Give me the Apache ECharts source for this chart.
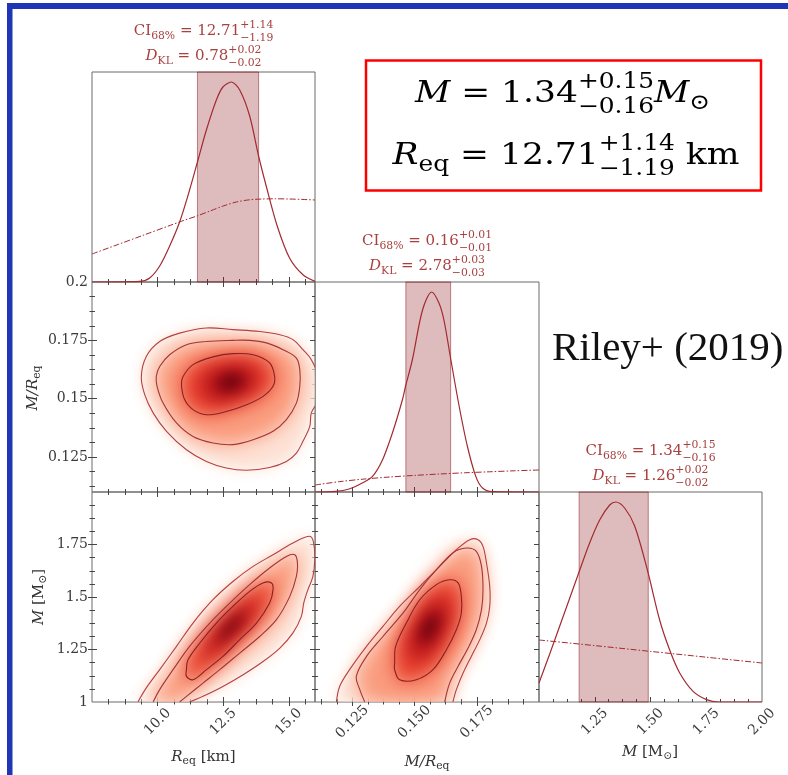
<!DOCTYPE html>
<html>
<head>
<meta charset="utf-8">
<script src="https://cdn.jsdelivr.net/npm/echarts@6/dist/echarts.min.js"></script>
<style>
html,body{margin:0;padding:0;background:#ffffff;}
#chart{width:788px;height:775px;}
</style>
</head>
<body>
<div id="chart"></div>
<script>
// ---------- axis ranges ----------
const reqRange = [7.5, 16];        // equatorial radius [km]
const compRange = [0.11, 0.2];     // compactness M/R_eq
const massRange = [1, 2];          // mass [M_sun]
const densityRange = [0, 1.05];    // normalised marginal density

// ---------- ticks and tick labels ----------
const reqMajor = [10, 12.5, 15];
const reqLabels = ['10.0', '12.5', '15.0'];
const compMajor = [0.125, 0.15, 0.175];
const compXLabels = ['0.125', '0.150', '0.175'];
const compYLabelValues = [0.125, 0.15, 0.175, 0.2];
const compYLabels = ['0.125', '0.15', '0.175', '0.2'];
const massMajor = [1.25, 1.5, 1.75];
const massYLabelValues = [1, 1.25, 1.5, 1.75];
const massYLabels = ['1', '1.25', '1.5', '1.75'];
const massXLabelValues = [1.25, 1.5, 1.75, 2];
const massXLabels = ['1.25', '1.50', '1.75', '2.00'];
const reqMinorStep = 0.625;
const compMinorStep = 0.00625;
const massMinorStep = 0.0625;

// ---------- summary statistics: [median, +err, -err] ----------
const reqCI = [12.71, 1.14, 1.19];
const compCI = [0.156, 0.0085, 0.0095];
const massCI = [1.34, 0.15, 0.16];
const reqKL = [0.78, 0.02, 0.02];
const compKL = [2.78, 0.03, 0.03];
const massKL = [1.26, 0.02, 0.02];

// ---------- 1D marginal posteriors and priors ----------
const reqPosterior = [[7.5,0],[9.32,0.003],[9.70,0.02],[10.08,0.08],[10.46,0.18],[10.84,0.30],[11.22,0.46],[11.54,0.61],[11.86,0.76],[12.24,0.91],[12.49,0.975],[12.81,1.0],[13.13,0.96],[13.51,0.83],[13.85,0.63],[14.14,0.48],[14.56,0.28],[15.03,0.12],[15.54,0.036],[16.0,0.003]];
const reqPrior = [[7.5,0.14],[8.5,0.188],[9.5,0.236],[10.5,0.284],[11.0,0.308],[11.5,0.33],[12.0,0.355],[12.5,0.38],[13.0,0.4],[13.5,0.411],[14.0,0.415],[14.5,0.416],[15.0,0.415],[15.5,0.413],[16.0,0.41]];
const compPosterior = [[0.11,0],[0.1183,0.003],[0.1237,0.015],[0.129,0.045],[0.1331,0.078],[0.1371,0.16],[0.1411,0.295],[0.1451,0.46],[0.1464,0.53],[0.1491,0.66],[0.1532,0.91],[0.1569,1.0],[0.1598,0.945],[0.1618,0.86],[0.1646,0.66],[0.1679,0.43],[0.1712,0.23],[0.1746,0.078],[0.1773,0.02],[0.1812,0.002],[0.2,0]];
const compPrior = [[0.11,0.035],[0.12,0.052],[0.13,0.065],[0.14,0.075],[0.15,0.083],[0.16,0.09],[0.17,0.096],[0.18,0.101],[0.19,0.106],[0.2,0.11]];
const massPosterior = [[1.0,0.095],[1.048,0.24],[1.093,0.38],[1.138,0.52],[1.178,0.645],[1.227,0.795],[1.272,0.91],[1.317,0.985],[1.344,1.0],[1.384,0.97],[1.429,0.88],[1.486,0.66],[1.541,0.41],[1.586,0.26],[1.631,0.145],[1.691,0.053],[1.751,0.012],[1.807,0.0],[2.0,0.0]];
const massPrior = [[1.0,0.31],[1.25,0.282],[1.5,0.253],[1.75,0.224],[2.0,0.195]];

// ---------- 2D credible contours (outer, middle, inner) and density peaks ----------
const reqCompOuter = [[9.38,0.1595],[9.57,0.1681],[10.08,0.1745],[10.84,0.1781],[11.86,0.1803],[12.87,0.1796],[13.89,0.1788],[14.66,0.1774],[15.16,0.1753],[15.54,0.1710],[15.86,0.1667],[16.12,0.1595],[16.12,0.1496],[15.86,0.1439],[15.80,0.1381],[15.54,0.1317],[15.29,0.1267],[14.91,0.1231],[14.27,0.1205],[13.39,0.1193],[12.62,0.1203],[11.86,0.1231],[11.10,0.1281],[10.34,0.1360],[9.83,0.1439],[9.51,0.1517]];
const reqCompMiddle = [[9.95,0.1595],[10.08,0.1638],[10.46,0.1688],[11.10,0.1731],[11.86,0.1745],[12.87,0.1750],[13.51,0.1750],[14.15,0.1739],[14.78,0.1710],[15.29,0.1674],[15.42,0.1624],[15.42,0.1553],[15.29,0.1481],[14.91,0.1410],[14.40,0.1360],[13.64,0.1324],[12.87,0.1303],[12.11,0.1310],[11.35,0.1338],[10.72,0.1396],[10.21,0.1481],[9.98,0.1553]];
const reqCompInner = [[10.91,0.1560],[10.97,0.1595],[11.35,0.1646],[12.11,0.1679],[12.87,0.1693],[13.64,0.1688],[14.27,0.1653],[14.46,0.1595],[14.40,0.1553],[14.02,0.1510],[13.39,0.1474],[12.62,0.1445],[11.86,0.1431],[11.35,0.1453],[11.03,0.1496]];
const reqCompPeak = [12.85, 0.1572];

const reqMassOuter = [[9.25,1.0],[9.57,1.067],[10.08,1.154],[10.72,1.265],[11.35,1.376],[12.11,1.487],[12.87,1.574],[13.64,1.646],[14.40,1.701],[15.16,1.757],[15.80,1.789],[15.95,1.757],[15.99,1.678],[15.92,1.598],[15.73,1.535],[15.57,1.471],[15.48,1.408],[15.16,1.329],[14.66,1.257],[14.02,1.193],[13.26,1.130],[12.49,1.074],[11.73,1.027],[11.22,1.0]];
const reqMassMiddle = [[9.83,1.0],[10.08,1.059],[10.59,1.154],[11.22,1.265],[11.99,1.376],[12.75,1.471],[13.51,1.559],[14.27,1.638],[14.91,1.693],[15.23,1.701],[15.33,1.662],[15.29,1.598],[15.04,1.503],[14.53,1.392],[13.89,1.312],[13.13,1.233],[12.37,1.154],[11.73,1.090],[11.10,1.027],[10.84,1.0]];
const reqMassInner = [[11.10,1.154],[11.16,1.201],[11.61,1.281],[12.24,1.376],[12.87,1.455],[13.51,1.527],[14.02,1.567],[14.34,1.567],[14.40,1.535],[14.27,1.471],[13.77,1.376],[13.13,1.297],[12.49,1.217],[11.86,1.154],[11.35,1.106],[11.10,1.122]];
const reqMassPeak = [12.8, 1.36];

const compMassOuter = [[0.1186,1.0],[0.1199,1.074],[0.1239,1.154],[0.1307,1.265],[0.1373,1.360],[0.1440,1.455],[0.1521,1.550],[0.1601,1.646],[0.1668,1.725],[0.1722,1.773],[0.1755,1.773],[0.1775,1.741],[0.1789,1.662],[0.1802,1.550],[0.1802,1.455],[0.1789,1.376],[0.1762,1.297],[0.1728,1.217],[0.1695,1.138],[0.1668,1.059],[0.1654,1.0]];
const compMassMiddle = [[0.1300,1.0],[0.1280,1.059],[0.1266,1.122],[0.1307,1.217],[0.1373,1.312],[0.1454,1.424],[0.1521,1.535],[0.1588,1.630],[0.1654,1.710],[0.1708,1.733],[0.1748,1.717],[0.1769,1.646],[0.1775,1.535],[0.1769,1.440],[0.1748,1.344],[0.1715,1.257],[0.1675,1.170],[0.1641,1.090],[0.1621,1.0]];
const compMassInner = [[0.1420,1.186],[0.1424,1.265],[0.1467,1.376],[0.1521,1.487],[0.1588,1.559],[0.1641,1.582],[0.1675,1.567],[0.1688,1.503],[0.1688,1.424],[0.1668,1.344],[0.1628,1.249],[0.1574,1.154],[0.1507,1.106],[0.1440,1.106],[0.1420,1.154]];
const compMassPeak = [0.1561, 1.36];

// ---------- styling ----------
const SERIF = '"DejaVu Serif", serif';
const TICK = '#454545';
const LABEL = '#3a3a3a';
const CURVE = '#a22a30';
const TITLE_RED = '#a8403f';
const BAND = 'rgba(140,22,28,0.29)';
const BAND_EDGE = 'rgba(140,22,28,0.5)';
const SHADE = ['#fde2d6', '#fa9c7e', '#e8412f', '#b8141c', '#6a020e'];
const SHADE_BLUR = [14, 18, 18, 18, 14];
const CONTOUR = ['#b5403f', '#a33437', '#8a2024'];
const OFF = 4000;

function stepsWithin(range, step) {
  const out = [];
  const k0 = Math.ceil(range[0] / step - 1e-9);
  for (let k = k0; k * step <= range[1] + 1e-9; k++) {
    const v = +(k * step).toFixed(6);
    if (v > range[0] + 1e-9 && v < range[1] - 1e-9) out.push(v);
  }
  return out;
}
function lookup(values, texts, v) {
  for (let i = 0; i < values.length; i++) if (Math.abs(values[i] - v) < 1e-7) return texts[i];
  return '';
}

// ---------- panel layout ----------
const grids = [
  {left: 92, top: 72, width: 223, height: 210},   // 0: R_eq marginal
  {left: 92, top: 282, width: 223, height: 210},  // 1: R_eq vs M/R_eq
  {left: 92, top: 492, width: 223, height: 210},  // 2: R_eq vs M
  {left: 315, top: 282, width: 224, height: 210}, // 3: M/R_eq marginal
  {left: 315, top: 492, width: 224, height: 210}, // 4: M/R_eq vs M
  {left: 539, top: 492, width: 223, height: 210}  // 5: M marginal
].map(g => Object.assign({show: true, borderColor: '#6a6a6a', borderWidth: 1, backgroundColor: 'transparent', outerBoundsMode: 'none'}, g));

const xAxes = [], yAxes = [];
function axis(dim, grid, range, position, ticks, len, inside, label) {
  const list = dim === 'x' ? xAxes : yAxes;
  list.push({
    type: 'value', gridIndex: grid, min: range[0], max: range[1], position,
    axisLine: {show: false, onZero: false},
    splitLine: {show: false},
    axisTick: {show: true, inside, length: len, customValues: ticks, lineStyle: {color: TICK, width: 1}},
    axisLabel: label || {show: false}
  });
  return list.length - 1;
}
function ticked(dim, grid, range, position, major, minorStep, inside, label) {
  const first = axis(dim, grid, range, position, major, inside ? 5 : 4, inside, label);
  axis(dim, grid, range, position, stepsWithin(range, minorStep), inside ? 3 : 2.5, inside, null);
  return first;
}
function hiddenY(grid) {
  yAxes.push({type: 'value', gridIndex: grid, min: densityRange[0], max: densityRange[1], show: false});
  return yAxes.length - 1;
}
function xLabel(values, texts) {
  return {show: true, customValues: values, rotate: 45, align: 'center', verticalAlign: 'middle', margin: 20,
    fontFamily: SERIF, fontSize: 14, color: LABEL, formatter: v => lookup(values, texts, v)};
}
function yLabel(values, texts) {
  return {show: true, customValues: values, margin: 4,
    fontFamily: SERIF, fontSize: 14, color: LABEL, formatter: v => lookup(values, texts, v)};
}

// panel 0
const x0 = ticked('x', 0, reqRange, 'bottom', reqMajor, reqMinorStep, true);
const y0 = hiddenY(0);
// panel 1
const x1 = ticked('x', 1, reqRange, 'bottom', reqMajor, reqMinorStep, true);
ticked('x', 1, reqRange, 'top', reqMajor, reqMinorStep, true);
const y1 = ticked('y', 1, compRange, 'left', compMajor, compMinorStep, true);
ticked('y', 1, compRange, 'left', compMajor, compMinorStep, false, yLabel(compYLabelValues, compYLabels));
ticked('y', 1, compRange, 'right', compMajor, compMinorStep, true);
// panel 2
const x2 = ticked('x', 2, reqRange, 'bottom', reqMajor, reqMinorStep, true);
ticked('x', 2, reqRange, 'bottom', reqMajor, reqMinorStep, false, xLabel(reqMajor, reqLabels));
ticked('x', 2, reqRange, 'top', reqMajor, reqMinorStep, true);
const y2 = ticked('y', 2, massRange, 'left', massMajor, massMinorStep, true);
ticked('y', 2, massRange, 'left', massMajor, massMinorStep, false, yLabel(massYLabelValues, massYLabels));
ticked('y', 2, massRange, 'right', massMajor, massMinorStep, true);
// panel 3
const x3 = ticked('x', 3, compRange, 'bottom', compMajor, compMinorStep, true);
const y3 = hiddenY(3);
// panel 4
const x4 = ticked('x', 4, compRange, 'bottom', compMajor, compMinorStep, true);
ticked('x', 4, compRange, 'bottom', compMajor, compMinorStep, false, xLabel(compMajor, compXLabels));
ticked('x', 4, compRange, 'top', compMajor, compMinorStep, true);
const y4 = ticked('y', 4, massRange, 'left', massMajor, massMinorStep, true);
ticked('y', 4, massRange, 'right', massMajor, massMinorStep, true);
// panel 5
const x5 = ticked('x', 5, massRange, 'bottom', massMajor, massMinorStep, true, xLabel(massXLabelValues, massXLabels));
const y5 = hiddenY(5);

// ---------- series ----------
function marginal(xi, yi, post, prior, ci) {
  const lo = ci[0] - ci[2], hi = ci[0] + ci[1];
  return [
    {type: 'line', xAxisIndex: xi, yAxisIndex: yi, z: 1, silent: true, symbol: 'none',
      data: [[lo, 0], [hi, 0]], lineStyle: {width: 0, opacity: 0},
      markArea: {silent: true, itemStyle: {color: BAND, borderColor: BAND_EDGE, borderWidth: 1},
        data: [[{xAxis: lo}, {xAxis: hi}]]}},
    {type: 'line', xAxisIndex: xi, yAxisIndex: yi, z: 4, silent: true, symbol: 'none', smooth: 0.3,
      data: prior, lineStyle: {color: CURVE, width: 1, type: [6, 2, 1.5, 2]}},
    {type: 'line', xAxisIndex: xi, yAxisIndex: yi, z: 5, silent: true, symbol: 'none', smooth: 0.3,
      data: post, lineStyle: {color: CURVE, width: 1.2}}
  ];
}

function blurred(points, color, blur, extra) {
  // shape is drawn off-canvas; only its blurred shadow lands on the panel
  return Object.assign({
    type: 'polygon', x: -OFF, shape: {points, smooth: 0.35},
    style: {fill: color, shadowBlur: blur, shadowColor: color, shadowOffsetX: OFF, shadowOffsetY: 0}
  }, extra || {});
}

function density(xi, yi, levels, peak, open) {
  return {
    type: 'custom', xAxisIndex: xi, yAxisIndex: yi, clip: true, silent: true, z: 2,
    data: [peak],
    renderItem: function (params, api) {
      const px = arr => arr.map(p => api.coord(p));
      const pk = api.coord(peak);
      const [outer, middle, inner] = levels.map(px);
      const children = [
        blurred(outer, SHADE[0], SHADE_BLUR[0]),
        blurred(middle, SHADE[1], SHADE_BLUR[1]),
        blurred(inner, SHADE[2], SHADE_BLUR[2]),
        blurred(inner, SHADE[3], SHADE_BLUR[3], {originX: pk[0], originY: pk[1], scaleX: 0.6, scaleY: 0.6}),
        blurred(inner, SHADE[4], SHADE_BLUR[4], {originX: pk[0], originY: pk[1], scaleX: 0.28, scaleY: 0.28})
      ];
      levels.forEach((lv, i) => {
        children.push({
          type: open[i] ? 'polyline' : 'polygon',
          shape: {points: px(lv), smooth: 0.35},
          style: {fill: 'none', stroke: CONTOUR[i], lineWidth: 1.1}
        });
      });
      return {type: 'group', children};
    }
  };
}

const series = [].concat(
  marginal(x0, y0, reqPosterior, reqPrior, reqCI),
  marginal(x3, y3, compPosterior, compPrior, compCI),
  marginal(x5, y5, massPosterior, massPrior, massCI),
  [
    density(x1, y1, [reqCompOuter, reqCompMiddle, reqCompInner], reqCompPeak, [false, false, false]),
    density(x2, y2, [reqMassOuter, reqMassMiddle, reqMassInner], reqMassPeak, [true, true, false]),
    density(x4, y4, [compMassOuter, compMassMiddle, compMassInner], compMassPeak, [true, true, false])
  ]
);

// ---------- typeset labels (sub/superscripts) ----------
const ctx2d = document.createElement('canvas').getContext('2d');
function fontStr(size, italic, family) {
  return (italic ? 'italic ' : '') + size.toFixed(2) + 'px ' + (family || SERIF);
}
function measure(t, f) { ctx2d.font = f; return ctx2d.measureText(t).width; }
function textEl(t, x, y, f, fill) {
  return {type: 'text', x, y, z: 100,
    style: {text: t, font: f, fill, align: 'left', verticalAlign: 'middle', textAlign: 'left', textVerticalAlign: 'middle'}};
}
function mathGroup(parts, cx, cy, size, fill, rotation, scaleX) {
  const small = size * 0.72;
  let x = 0;
  const els = [];
  parts.forEach(p => {
    if (p.ss) {
      const f = fontStr(small, false);
      els.push(textEl(p.ss[0], x, -size * 0.4, f, fill));
      els.push(textEl(p.ss[1], x, size * 0.43, f, fill));
      x += Math.max(measure(p.ss[0], f), measure(p.ss[1], f));
    } else if (p.sub) {
      const f = fontStr(small, !!p.it);
      els.push(textEl(p.sub, x, size * 0.3, f, fill));
      x += measure(p.sub, f);
    } else {
      const f = fontStr(size, !!p.it);
      els.push(textEl(p.t, x, 0, f, fill));
      x += measure(p.t, f);
    }
  });
  els.forEach(e => { e.x -= x / 2; });
  return {type: 'group', x: cx, y: cy, rotation: rotation || 0, scaleX: scaleX || 1, z: 100, children: els};
}
const MINUS = '\u2212';
const errPair = (a, b) => ['+' + a.toFixed(2), MINUS + b.toFixed(2)];
const ciRow = ci => [{t: 'CI'}, {sub: '68%'}, {t: ' = ' + ci[0].toFixed(2)}, {ss: errPair(ci[1], ci[2])}];
const klRow = kl => [{t: 'D', it: true}, {sub: 'KL'}, {t: ' = ' + kl[0].toFixed(2)}, {ss: errPair(kl[1], kl[2])}];

function panelTitle(g, ci, kl) {
  const cx = g.left + g.width / 2;
  return [
    mathGroup(ciRow(ci), cx, g.top - 40.5, 15, TITLE_RED),
    mathGroup(klRow(kl), cx, g.top - 15.5, 15, TITLE_RED)
  ];
}

const graphics = [
  // page frame
  {type: 'rect', z: 100, shape: {x: 7, y: 3, width: 781, height: 6}, style: {fill: '#1f36b4'}},
  {type: 'rect', z: 100, shape: {x: 7, y: 3, width: 5.5, height: 772}, style: {fill: '#1f36b4'}},
  // result box
  {type: 'rect', z: 100, shape: {x: 366, y: 60.5, width: 395, height: 130}, style: {fill: 'none', stroke: '#ff0000', lineWidth: 2.5}},
  mathGroup([{t: 'M', it: true}, {t: ' = ' + massCI[0].toFixed(2)}, {ss: errPair(massCI[1], massCI[2])}, {t: 'M', it: true}, {sub: '\u2299'}],
    562.5, 94.5, 30, '#000000', 0, 1.15),
  mathGroup([{t: 'R', it: true}, {sub: 'eq'}, {t: ' = ' + reqCI[0].toFixed(2)}, {ss: errPair(reqCI[1], reqCI[2])}, {t: ' km'}],
    566, 156.5, 30, '#000000', 0, 1.15),
  {type: 'text', z: 100, x: 552, y: 349,
    style: {text: 'Riley+ (2019)', font: '41px "Liberation Serif", serif', fill: '#111111', align: 'left', verticalAlign: 'middle', textAlign: 'left', textVerticalAlign: 'middle'}},
  // axis names
  mathGroup([{t: 'R', it: true}, {sub: 'eq'}, {t: ' [km]'}], 203.5, 757, 15, '#333333'),
  mathGroup([{t: 'M/R', it: true}, {sub: 'eq'}], 427, 762, 15, '#333333'),
  mathGroup([{t: 'M', it: true}, {t: ' [M'}, {sub: '\u2299'}, {t: ']'}], 650, 752, 15, '#333333'),
  mathGroup([{t: 'M/R', it: true}, {sub: 'eq'}], 33, 388, 15, '#333333', Math.PI / 2),
  mathGroup([{t: 'M', it: true}, {t: ' [M'}, {sub: '\u2299'}, {t: ']'}], 39, 597, 15, '#333333', Math.PI / 2)
].concat(
  panelTitle(grids[0], reqCI, reqKL),
  panelTitle(grids[3], compCI, compKL),
  panelTitle(grids[5], massCI, massKL)
);

const chart = echarts.init(document.getElementById('chart'), null, {renderer: 'canvas'});
chart.setOption({
  animation: false,
  backgroundColor: '#ffffff',
  grid: grids,
  xAxis: xAxes,
  yAxis: yAxes,
  series: series,
  graphic: {elements: graphics}
});
</script>
</body>
</html>
